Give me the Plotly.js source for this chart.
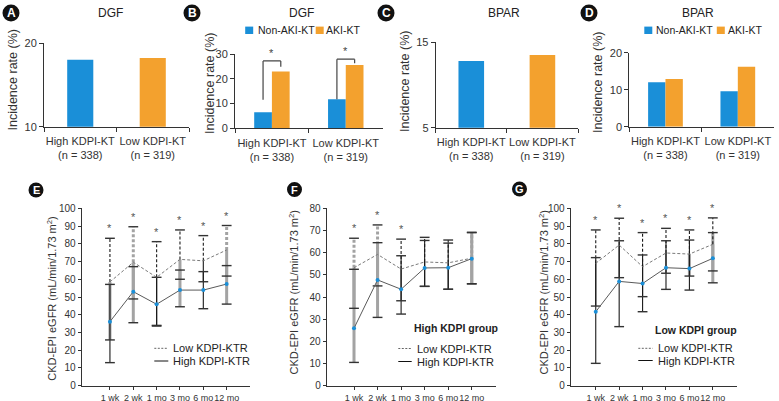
<!DOCTYPE html>
<html><head><meta charset="utf-8">
<script src="https://cdn.plot.ly/plotly-3.0.1.min.js"></script>
<style>html,body{margin:0;padding:0;background:#fff}#chart{width:779px;height:401px}</style>
</head><body><div id="chart"></div>
<script>
// ---------------- data ----------------
const groups = ['High KDPI-KT', 'Low KDPI-KT'];
const groupN = [338, 319];
const dgfRate = [18.0, 18.2];        // A
const dgfNonAKI = [6.5, 11.7];       // B
const dgfAKI = [22.9, 25.6];         // B
const bparRate = [12.8, 13.5];       // C
const bparNonAKI = [12.0, 9.6];      // D
const bparAKI = [12.9, 16.2];        // D
const dgfSigBracketTop = [27.2, 27.9];

const timePoints = ['1 wk', '2 wk', '1 mo', '3 mo', '6 mo', '12 mo'];

// E: all patients
const E_lowMean   = [58.5, 69.6, 61.1, 71.2, 70.4, 76.5];
const E_lowUpper  = [83.1, 89.6, 81.2, 87.8, 84.6, 90.3];
const E_lowLower  = [25.8, 48.9, 34.0, 60.0, 58.6, 61.8];
const E_highMean  = [36.1, 53.0, 45.9, 53.9, 53.9, 57.3];
const E_highUpper = [57.1, 67.1, 61.1, 65.2, 64.3, 67.7];
const E_highLower = [13.0, 35.5, 33.6, 44.5, 43.4, 46.0];
const E_sig = [1, 1, 1, 1, 1, 1];

// F: high KDPI group
const F_lowMean   = [53.2, 59.2, 52.6, 55.8, 55.4, 57.5];
const F_lowUpper  = [66.5, 72.5, 66.1, 66.9, 65.7, 69.2];
const F_lowLower  = [34.9, 45.0, 38.3, 44.8, 43.5, 46.0];
const F_highMean  = [25.9, 47.7, 43.5, 53.1, 53.2, 57.3];
const F_highUpper = [52.5, 64.5, 58.6, 65.5, 64.3, 69.0];
const F_highLower = [10.5, 30.8, 32.3, 44.8, 43.5, 45.9];
const F_sig = [1, 1, 1, 0, 0, 0];

// G: low KDPI group
const G_lowMean   = [69.0, 79.3, 67.1, 74.8, 74.2, 79.7];
const G_lowUpper  = [87.8, 94.4, 86.3, 88.7, 87.8, 94.6];
const G_lowLower  = [44.9, 60.9, 50.2, 63.4, 61.8, 64.7];
const G_highMean  = [41.7, 58.8, 57.6, 66.5, 66.0, 71.8];
const G_highUpper = [72.2, 81.7, 73.7, 81.7, 82.1, 86.3];
const G_highLower = [12.6, 33.3, 41.7, 54.3, 53.9, 58.0];
const G_sig = [1, 1, 1, 1, 1, 1];

// ---------------- styles ----------------
const BLUE = '#1a8fd8', ORANGE = '#f3a12e';
const E_style = {lowUp: 'kgkkkg', lowLo: 'ggkgkg', high: 'kgkgkg'};
const F_style = {lowUp: 'ggkkkg', lowLo: 'ggkkkg', high: 'ggkkkg'};
const G_style = {lowUp: 'kkkkkk', lowLo: 'kkkkgg', high: 'kkkkkg'};

const W = 779, H = 401;
const px = x => x / W;
const py = y => 1 - y / H;
const FONT = 'Liberation Sans, Arial, Helvetica, sans-serif';

const catLabels = groups.map((g, i) => g + '<br>(n = ' + groupN[i] + ')');

const traces = [];
const shapes = [];
const annotations = [];

// ---------- top bar panels ----------
traces.push({type: 'bar', x: catLabels, y: dgfRate, xaxis: 'x', yaxis: 'y', width: 0.36,
  marker: {color: [BLUE, ORANGE]}, showlegend: false, hoverinfo: 'skip'});
traces.push({type: 'bar', name: 'Non-AKI-KT', x: catLabels, y: dgfNonAKI, xaxis: 'x2', yaxis: 'y2',
  marker: {color: BLUE}, showlegend: false, hoverinfo: 'skip'});
traces.push({type: 'bar', name: 'AKI-KT', x: catLabels, y: dgfAKI, xaxis: 'x2', yaxis: 'y2',
  marker: {color: ORANGE}, showlegend: false, hoverinfo: 'skip'});
traces.push({type: 'bar', x: catLabels, y: bparRate, xaxis: 'x3', yaxis: 'y3', width: 0.36,
  marker: {color: [BLUE, ORANGE]}, showlegend: false, hoverinfo: 'skip'});
traces.push({type: 'bar', name: 'Non-AKI-KT', x: catLabels, y: bparNonAKI, xaxis: 'x4', yaxis: 'y4',
  marker: {color: BLUE}, showlegend: false, hoverinfo: 'skip'});
traces.push({type: 'bar', name: 'AKI-KT', x: catLabels, y: bparAKI, xaxis: 'x4', yaxis: 'y4',
  marker: {color: ORANGE}, showlegend: false, hoverinfo: 'skip'});

// significance brackets in B
const off = 0.12;
for (let i = 0; i < 2; i++) {
  const top = dgfSigBracketTop[i];
  const lineStyle = {color: '#444', width: 1.2};
  const leftBottom = dgfNonAKI[i] + (i === 0 ? 5 : 0);
  const rightBottom = dgfAKI[i] + (i === 0 ? 2 : 0.7);
  shapes.push({type: 'line', xref: 'x2', yref: 'y2', x0: i - off, x1: i - off, y0: leftBottom, y1: top, line: lineStyle});
  shapes.push({type: 'line', xref: 'x2', yref: 'y2', x0: i - off, x1: i + off, y0: top, y1: top, line: lineStyle});
  shapes.push({type: 'line', xref: 'x2', yref: 'y2', x0: i + off, x1: i + off, y0: top, y1: rightBottom, line: lineStyle});
  annotations.push({xref: 'x2', yref: 'y2', x: i, y: top, text: '*', showarrow: false,
    yanchor: 'bottom', font: {size: 11, color: '#444'}});
}

// ---------- bottom line panels ----------
function addPanel(xa, ya, d, style, sig) {
  const segs = [
    {from: d.lowMean, to: d.lowUpper, st: style.lowUp, dash: true},
    {from: d.lowMean, to: d.lowLower, st: style.lowLo, dash: false},
    {from: d.highMean, to: d.highUpper, st: style.high, dash: false},
    {from: d.highMean, to: d.highLower, st: style.high, dash: false}
  ];
  ['g', 'k'].forEach(c => {
    segs.forEach(s => {
      const x = [], y = [];
      s.from.forEach((v, i) => {
        if (s.st[i] === c) { x.push(i, i, null); y.push(v, s.to[i], null); }
      });
      if (!x.length) return;
      traces.push({type: 'scatter', mode: 'lines', x, y, xaxis: xa, yaxis: ya,
        line: {color: c === 'g' ? '#a3a3a3' : '#1a1a1a', width: c === 'g' ? 3 : 1.1,
               dash: s.dash ? '3px,2px' : 'solid'},
        showlegend: false, hoverinfo: 'skip'});
    });
  });
  // caps
  const cx = [], cy = [];
  segs.forEach(s => s.to.forEach((v, i) => { cx.push(i); cy.push(v); }));
  traces.push({type: 'scatter', mode: 'markers', x: cx, y: cy, xaxis: xa, yaxis: ya,
    marker: {symbol: 'line-ew', size: 7, line: {width: 1.4, color: '#333'}},
    showlegend: false, hoverinfo: 'skip', cliponaxis: false});
  // mean lines
  const idx = timePoints.map((t, i) => i);
  traces.push({type: 'scatter', mode: 'lines', name: 'Low KDPI-KTR', x: idx, y: d.lowMean, xaxis: xa, yaxis: ya,
    line: {color: '#7a7a7a', width: 1, dash: '3px,2px'}, showlegend: false, hoverinfo: 'skip'});
  traces.push({type: 'scatter', mode: 'lines+markers', name: 'High KDPI-KTR', x: idx, y: d.highMean, xaxis: xa, yaxis: ya,
    line: {color: '#5a5a5a', width: 1}, marker: {color: BLUE, size: 4},
    showlegend: false, hoverinfo: 'skip'});
  // stars
  sig.forEach((s, i) => {
    if (s) annotations.push({xref: xa, yref: ya, x: i, y: d.lowUpper[i], text: '*', showarrow: false,
      yanchor: 'bottom', yshift: 2, font: {size: 11, color: '#555'}});
  });
}

addPanel('x5', 'y5', {lowMean: E_lowMean, lowUpper: E_lowUpper, lowLower: E_lowLower,
  highMean: E_highMean, highUpper: E_highUpper, highLower: E_highLower}, E_style, E_sig);
addPanel('x6', 'y6', {lowMean: F_lowMean, lowUpper: F_lowUpper, lowLower: F_lowLower,
  highMean: F_highMean, highUpper: F_highUpper, highLower: F_highLower}, F_style, F_sig);
addPanel('x7', 'y7', {lowMean: G_lowMean, lowUpper: G_lowUpper, lowLower: G_lowLower,
  highMean: G_highMean, highUpper: G_highUpper, highLower: G_highLower}, G_style, G_sig);

// ---------- axes ----------
function topX(l, r, anchor) {
  return {domain: [px(l), px(r)], anchor, type: 'category', range: [-0.5, 1.5], tickson: 'boundaries',
    ticks: 'outside', ticklen: 4, tickcolor: '#333', showline: true, linecolor: '#333', linewidth: 1,
    showgrid: false, zeroline: false, tickangle: 0, automargin: false,
    tickfont: {size: 11, color: '#333'}, ticklabelstandoff: 4, fixedrange: true};
}
function topY(t, b, anchor, range, tickvals) {
  return {domain: [py(b), py(t)], anchor, range, tickvals, ticks: 'outside', ticklen: 4, tickcolor: '#333',
    showline: true, linecolor: '#333', linewidth: 1, showgrid: false, zeroline: false, automargin: false,
    tickfont: {size: 11, color: '#333'}, fixedrange: true};
}
function botX(l, r, anchor, range) {
  return {domain: [px(l), px(r)], anchor, range, tickvals: [0, 1, 2, 3, 4, 5], ticktext: timePoints,
    ticks: 'outside', ticklen: 3, tickcolor: '#333', showline: true, linecolor: '#333', linewidth: 1,
    showgrid: false, zeroline: false, tickangle: 0, automargin: false,
    tickfont: {size: 9, color: '#333'}, fixedrange: true};
}
function botY(anchor, range) {
  return {domain: [py(385.7), py(208.3)], anchor, range, tickmode: 'linear', tick0: 0, dtick: 10,
    ticks: 'outside', ticklen: 3, tickcolor: '#333', showline: true, linecolor: '#333', linewidth: 1,
    showgrid: false, zeroline: false, automargin: false, tickfont: {size: 10, color: '#333'}, fixedrange: true};
}

const layout = {
  width: W, height: H, margin: {l: 0, r: 0, t: 0, b: 0}, paper_bgcolor: '#fff', plot_bgcolor: 'rgba(0,0,0,0)',
  font: {family: FONT, color: '#333'}, barmode: 'group', bargap: 0.52, bargroupgap: 0, showlegend: false,
  xaxis: topX(44, 189, 'y'), yaxis: topY(43, 126.7, 'x', [10, 20], [10, 20]),
  xaxis2: topX(235, 382.7, 'y2'), yaxis2: topY(54, 128.3, 'x2', [0, 30], [0, 10, 20, 30]),
  xaxis3: topX(435.7, 578, 'y3'), yaxis3: topY(42.3, 127.7, 'x3', [5, 15], [5, 15]),
  xaxis4: topX(629.3, 774, 'y4'), yaxis4: topY(52.7, 126.7, 'x4', [0, 20], [0, 10, 20]),
  xaxis5: botX(81.7, 250, 'y5', [-1.21, 6.0]), yaxis5: botY('x5', [0, 100]),
  xaxis6: botX(326.7, 496, 'y6', [-1.16, 6.03]), yaxis6: botY('x6', [0, 80]),
  xaxis7: botX(570.7, 736.7, 'y7', [-1.07, 6.02]), yaxis7: botY('x7', [0, 100]),
  shapes, annotations
};

function txt(x, y, text, opts) {
  annotations.push(Object.assign({xref: 'paper', yref: 'paper', x: px(x), y: py(y), text, showarrow: false,
    xanchor: 'center', yanchor: 'middle', font: {size: 12, color: '#222'}}, opts || {}));
}

// panel titles
txt(110.5, 13, 'DGF');
txt(301.5, 13, 'DGF');
txt(504, 13, 'BPAR');
txt(698, 13, 'BPAR');

// y axis titles
const yTitleTop = 'Incidence rate (%)';
txt(12.5, 80, yTitleTop, {textangle: -90, font: {size: 12.5, color: '#333'}});
txt(210, 84, yTitleTop, {textangle: -90, font: {size: 12.5, color: '#333'}});
txt(405, 82, yTitleTop, {textangle: -90, font: {size: 12.5, color: '#333'}});
txt(598, 83, yTitleTop, {textangle: -90, font: {size: 12.5, color: '#333'}});
const yTitleBot = 'CKD-EPI eGFR (mL/min/1.73 m<sup>2</sup>)';
txt(51.7, 299, yTitleBot, {textangle: -90, font: {size: 11, color: '#333'}});
txt(293.5, 293, yTitleBot, {textangle: -90, font: {size: 11, color: '#333'}});
txt(543.5, 293, yTitleBot, {textangle: -90, font: {size: 11, color: '#333'}});

// panel letters
[['A', 11, 13, 8.5], ['B', 192, 13, 8.5], ['C', 386, 13, 8.5], ['D', 589, 13, 8.5],
 ['E', 36, 190, 7.5], ['F', 294.5, 189.5, 7.5], ['G', 519.5, 189, 7.5]].forEach(([L, cx, cy, r]) => {
  shapes.push({type: 'circle', xref: 'paper', yref: 'paper', xsizemode: 'pixel', ysizemode: 'pixel',
    xanchor: px(cx), yanchor: py(cy), x0: -r, x1: r, y0: -r, y1: r, fillcolor: '#111', line: {width: 0}});
  txt(cx, cy, '<b>' + L + '</b>', {font: {size: r > 8 ? 12 : 11, color: '#fff'}});
});

// bar legends (B and D)
function sq(cx, cy, color) {
  shapes.push({type: 'rect', xref: 'paper', yref: 'paper', xsizemode: 'pixel', ysizemode: 'pixel',
    xanchor: px(cx), yanchor: py(cy), x0: -4, x1: 4, y0: -3.7, y1: 3.7, fillcolor: color, line: {width: 0}});
}
sq(249.2, 30.3, BLUE); txt(255.5, 30.3, 'Non-AKI-KT', {xanchor: 'left', font: {size: 10.5, color: '#222'}});
sq(319.7, 30.3, ORANGE); txt(324, 30.3, 'AKI-KT', {xanchor: 'left', font: {size: 10.5, color: '#222'}});
sq(648.3, 30.3, BLUE); txt(654, 30.3, 'Non-AKI-KT', {xanchor: 'left', font: {size: 10.5, color: '#222'}});
sq(720.8, 30.3, ORANGE); txt(725.5, 30.3, 'AKI-KT', {xanchor: 'left', font: {size: 10.5, color: '#222'}});

// line legends
function lineLegend(x0, x1, yLow, yHigh) {
  shapes.push({type: 'line', xref: 'paper', yref: 'paper', x0: px(x0), x1: px(x1), y0: py(yLow), y1: py(yLow),
    line: {color: '#666', width: 1, dash: '2px,1.5px'}});
  shapes.push({type: 'line', xref: 'paper', yref: 'paper', x0: px(x0), x1: px(x1), y0: py(yHigh), y1: py(yHigh),
    line: {color: '#111', width: 1}});
  txt(x1 + 3, yLow, 'Low KDPI-KTR', {xanchor: 'left', font: {size: 11, color: '#222'}});
  txt(x1 + 3, yHigh, 'High KDPI-KTR', {xanchor: 'left', font: {size: 11, color: '#222'}});
}
lineLegend(154.3, 168.3, 348.3, 361);
lineLegend(398.3, 411.7, 348.5, 361.5);
lineLegend(638.3, 652.7, 348.3, 360.5);
txt(412, 328.3, '<b>High KDPI group</b>', {xanchor: 'left', font: {size: 10.5, color: '#222'}});
txt(653, 330, '<b>Low KDPI group</b>', {xanchor: 'left', font: {size: 10.5, color: '#222'}});

Plotly.newPlot('chart', traces, layout, {displayModeBar: false, staticPlot: true});
</script>
</body></html>
